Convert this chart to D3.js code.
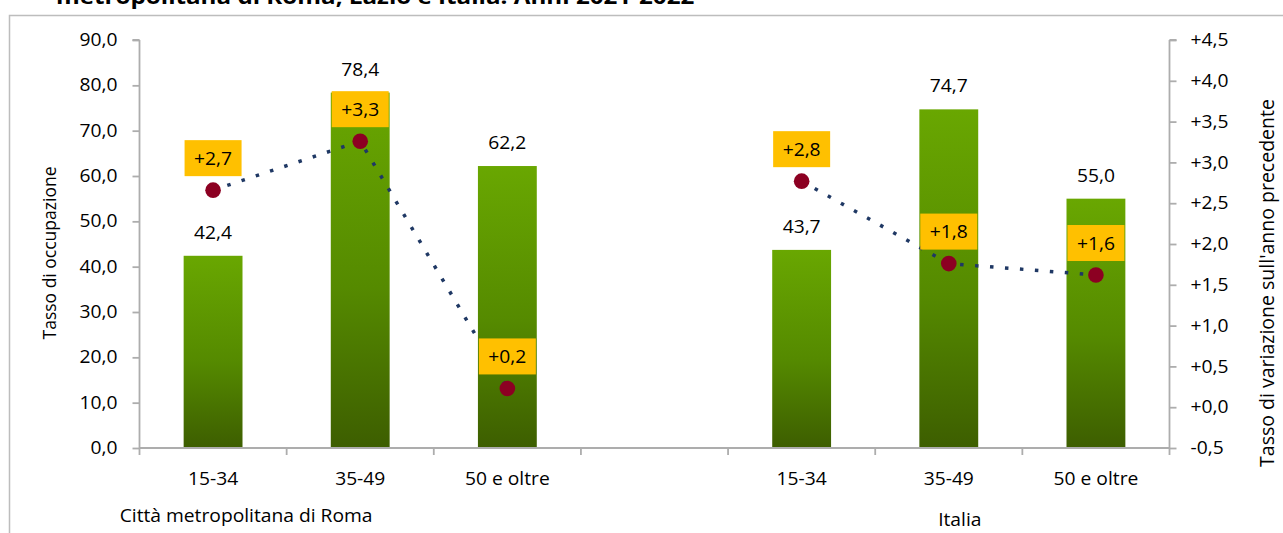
<!DOCTYPE html>
<html><head><meta charset="utf-8">
<script src="https://cdn.jsdelivr.net/npm/d3@7"></script>
<style>
html,body{margin:0;padding:0;background:#fff;}
svg{display:block;font-family:"Open Sans",sans-serif;}
</style></head>
<body>
<svg id="chart" width="1283" height="533"></svg>
<script>
// ---- data ----
const categories = ["15-34", "35-49", "50 e oltre", "", "15-34", "35-49", "50 e oltre"];
const groups = ["Città metropolitana di Roma", "Italia"];
const occupazione = [42.4, 78.4, 62.2, null, 43.7, 74.7, 55.0];
const variazione = [2.66, 3.26, 0.23, null, 2.77, 1.76, 1.62];      // plotted marker positions
const variazioneLabels = ["+2,7", "+3,3", "+0,2", null, "+2,8", "+1,8", "+1,6"];
const leftTicks = [0, 10, 20, 30, 40, 50, 60, 70, 80, 90];
const rightTicks = [-0.5, 0, 0.5, 1, 1.5, 2, 2.5, 3, 3.5, 4, 4.5];
const titleText = "metropolitana di Roma, Lazio e Italia. Anni 2021-2022";
const leftTitle = "Tasso di occupazione";
const rightTitle = "Tasso di variazione sull'anno precedente";

const svg = d3.select("#chart");
const L = 139.5, R = 1169.5, T = 40, B = 448;
const fs = 17.5;
const SX = 1.1; // horizontal stretch of texts
const axisColor = "#ADADAD";

// stretch helper: move x/y into a transform and widen glyphs horizontally
function stretch(sel) {
  sel.each(function () {
    const t = d3.select(this);
    const xx = +t.attr("x") || 0, yy = +t.attr("y") || 0;
    t.attr("x", 0).attr("y", 0).attr("transform", `translate(${xx},${yy}) scale(${SX},1)`);
  });
}

// frame + title
svg.append("rect").attr("x", 9.5).attr("y", 15.5).attr("width", 1300).attr("height", 540)
  .attr("fill", "none").attr("stroke", "#BDBDBD").attr("stroke-width", 1.5);
svg.append("text").attr("x", 56).attr("y", 4).attr("font-weight", "bold")
  .attr("font-size", 22).attr("fill", "#000").text(titleText).call(stretch);

const idx = categories.map((d, i) => i);
const x = d3.scaleBand().domain(idx).range([L, R]).paddingInner(0.6).paddingOuter(0.3);
const yL = d3.scaleLinear().domain([0, 90]).range([B, T]);
const yR = d3.scaleLinear().domain([-0.5, 4.5]).range([B, T]);
const fmtL = d => d3.format(".1f")(d).replace(".", ",");
const fmtR = d => (d < 0 ? "-" : "+") + d3.format(".1f")(Math.abs(d)).replace(".", ",");
const cx = i => x(i) + x.bandwidth() / 2;

// gradient
const defs = svg.append("defs");
const g = defs.append("linearGradient").attr("id", "barGrad").attr("x1", 0).attr("y1", 0).attr("x2", 0).attr("y2", 1);
g.append("stop").attr("offset", "0%").attr("stop-color", "#69A701");
g.append("stop").attr("offset", "55%").attr("stop-color", "#558A00");
g.append("stop").attr("offset", "100%").attr("stop-color", "#3D5E00");

// bars
const barData = idx.filter(i => occupazione[i] != null);
svg.append("g").selectAll("rect").data(barData).join("rect")
  .attr("x", i => x(i)).attr("width", x.bandwidth())
  .attr("y", i => yL(occupazione[i])).attr("height", i => yL(0) - yL(occupazione[i]))
  .attr("fill", "url(#barGrad)");

// bar value labels
svg.append("g").selectAll("text").data(barData).join("text")
  .attr("x", cx).attr("y", i => yL(occupazione[i]) - 17)
  .attr("text-anchor", "middle").attr("font-size", fs).attr("fill", "#000")
  .text(i => fmtL(occupazione[i])).call(stretch);

// left axis
const axL = svg.append("g").attr("transform", `translate(${L},0)`)
  .call(d3.axisLeft(yL).tickValues(leftTicks).tickFormat(fmtL).tickSize(7).tickPadding(15));
// right axis
const axR = svg.append("g").attr("transform", `translate(${R},0)`)
  .call(d3.axisRight(yR).tickValues(rightTicks).tickFormat(fmtR).tickSize(7).tickPadding(14));
[axL, axR].forEach(a => {
  a.select(".domain").attr("stroke", axisColor).attr("stroke-width", 1.8).attr("d", `M0,${T}H${a === axL ? -7 : 7}M0,${T}V${B}`);
  a.selectAll(".tick line").attr("stroke", axisColor).attr("stroke-width", 1.8);
  a.selectAll(".tick text").attr("font-size", fs).attr("fill", "#000").attr("font-family", "Open Sans").call(stretch);
});

// x axis line + boundary ticks
const step = x.step();
const bounds = d3.range(categories.length + 1).map(k => L + k * step);
const xa = svg.append("g");
xa.append("line").attr("x1", L).attr("x2", R).attr("y1", B).attr("y2", B)
  .attr("stroke", axisColor).attr("stroke-width", 1.8);
xa.selectAll("line.tk").data(bounds).join("line").attr("class", "tk")
  .attr("x1", d => d).attr("x2", d => d).attr("y1", B).attr("y2", B + 7)
  .attr("stroke", axisColor).attr("stroke-width", 1.8);
xa.selectAll("text.cat").data(idx).join("text").attr("class", "cat")
  .attr("x", cx).attr("y", 485)
  .attr("text-anchor", "middle").attr("font-size", fs).attr("fill", "#000")
  .text(i => categories[i]).call(stretch);
// group labels
const groupX = [cx(0) + 33, cx(5) + 11];
const groupY = [522, 526];
xa.selectAll("text.grp").data(groups).join("text").attr("class", "grp")
  .attr("x", (d, k) => groupX[k]).attr("y", (d, k) => groupY[k])
  .attr("text-anchor", "middle").attr("font-size", fs).attr("fill", "#000")
  .text(d => d).call(stretch);

// axis titles
svg.append("text").attr("transform", `translate(56,253) rotate(-90)`)
  .attr("text-anchor", "middle").attr("font-size", fs).attr("fill", "#000").text(leftTitle);
svg.append("text").attr("transform", `translate(1274,283) rotate(-90)`)
  .attr("text-anchor", "middle").attr("font-size", 19.5).attr("fill", "#000").text(rightTitle);

// dotted line (segments, broken at missing values)
const line = d3.line().defined(i => variazione[i] != null)
  .x(cx).y(i => yR(variazione[i]));
svg.append("path").datum(idx).attr("d", line).attr("fill", "none")
  .attr("stroke", "#1F3864").attr("stroke-width", 3.5).attr("stroke-dasharray", "3.5 11.5");

// markers
const ptData = idx.filter(i => variazione[i] != null);
svg.append("g").selectAll("circle").data(ptData).join("circle")
  .attr("cx", cx).attr("cy", i => yR(variazione[i])).attr("r", 7.8)
  .attr("fill", "#8C0022");

// variation labels
const lab = svg.append("g").selectAll("g").data(ptData).join("g")
  .attr("transform", i => `translate(${cx(i)},${yR(variazione[i]) - 32})`);
lab.append("rect").attr("x", -28.5).attr("y", -18).attr("width", 57).attr("height", 36).attr("fill", "#FFC000");
lab.append("text").attr("text-anchor", "middle").attr("y", 6.5).attr("font-size", fs).attr("fill", "#000")
  .text(i => variazioneLabels[i]).call(stretch);
</script>
</body></html>
